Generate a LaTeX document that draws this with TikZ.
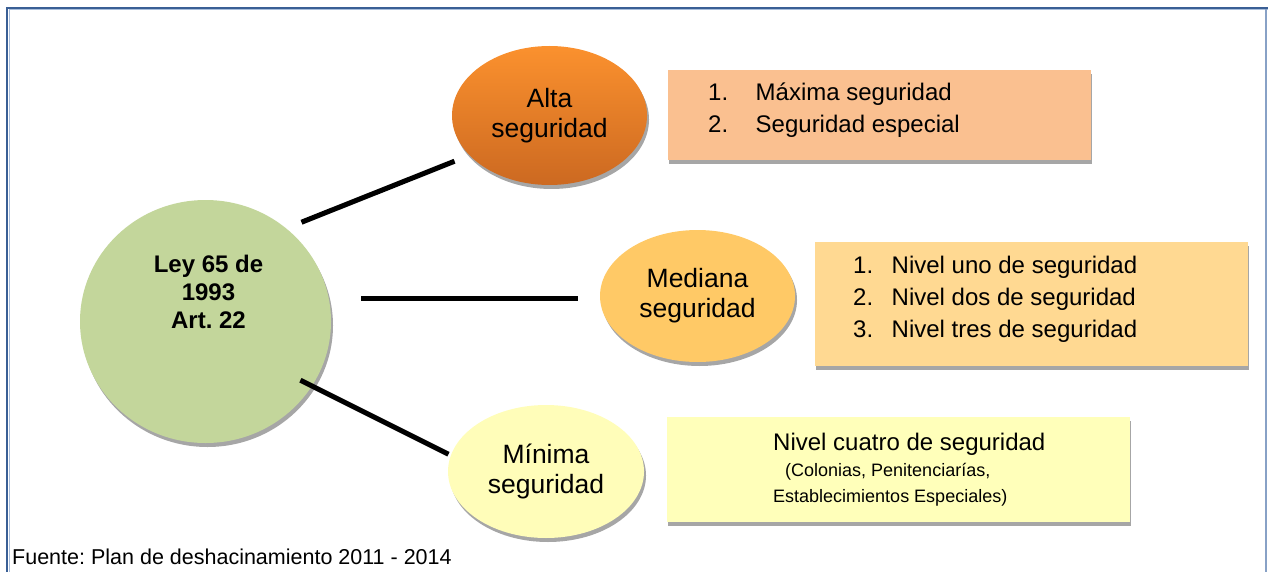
\documentclass[tikz,border=0pt]{standalone}
\usepackage{fontspec}
\setmainfont{Liberation Sans}
\usetikzlibrary{shapes.geometric,shadows,calc}
\frenchspacing
\definecolor{framedark}{HTML}{3A5F95}
\definecolor{framelight}{HTML}{A9BEDB}
\definecolor{leygreen}{HTML}{C3D69B}
\definecolor{altatop}{HTML}{FB912E}
\definecolor{altabot}{HTML}{CC6921}
\definecolor{medfill}{HTML}{FFC966}
\definecolor{minfill}{HTML}{FFFDB9}
\definecolor{boxone}{HTML}{FAC090}
\definecolor{boxtwo}{HTML}{FFD992}
\definecolor{boxthree}{HTML}{FFFFBA}
\definecolor{shade}{HTML}{A6A6A6}
\begin{document}
\begin{tikzpicture}[x=1pt,y=-1pt,
  oval/.style={ellipse, inner sep=0pt, align=center, font=\fontsize{26.5}{30}\selectfont,
    drop shadow={shadow xshift=2pt, shadow yshift=-4pt, fill=shade, opacity=1}},
  panel/.style={rectangle, inner sep=0pt, anchor=north west,
    drop shadow={shadow xshift=1pt, shadow yshift=-4pt, fill=shade, opacity=1}},
  item/.style={anchor=base west, inner sep=0pt, font=\fontsize{24}{28}\selectfont},
  smallitem/.style={anchor=base west, inner sep=0pt, font=\fontsize{18}{22}\selectfont},
  link/.style={line width=2.4pt, black},
  linkshadow/.style={line width=3.4pt, shade},
]
\useasboundingbox (0,0) rectangle (1268,572);
% frame
\draw[framelight, line width=1pt] (9.5,572) -- (9.5,10) -- (1268,10);
\draw[framedark, line width=2.5pt] (7,572) -- (7,8) -- (1268,8);
\draw[framelight!70!framedark, line width=1.5pt] (1266,9) -- (1266,572);

% boxes
\node[panel, fill=boxone, minimum width=423pt, minimum height=90pt] (b1) at (668,70) {};
\node[panel, fill=boxtwo, minimum width=433pt, minimum height=124pt] (b2) at (815,242) {};
\node[panel, fill=boxthree, minimum width=463pt, minimum height=105pt] (b3) at (667,417) {};

% ellipses
\node[oval, fill=leygreen, minimum width=251pt, minimum height=243pt] (ley) at (205.5,321.5) {};
\node[anchor=center, align=center, inner sep=0pt, font=\bfseries\fontsize{24}{28}\selectfont] (leyt) at (208.5,292) {Ley 65 de\\1993\\Art. 22};
\node[oval, top color=altatop, bottom color=altabot, minimum width=195pt, minimum height=139pt] (alta) at (549.5,115.5) {Alta\\seguridad};
\node[oval, fill=medfill, minimum width=195pt, minimum height=132pt] (med) at (697.5,296) {Mediana\\seguridad};
\node[oval, fill=minfill, minimum width=196pt, minimum height=133pt] (min) at (546,471.5) {Mínima\\seguridad};

% connector end points
\coordinate (c1a) at ($(ley.center)+(95.5,-100.5)$);
\coordinate (c1b) at ($(alta.center)+(-95.5,44.5)$);
\coordinate (c2a) at ($(ley.center)+(155.5,-24.5)$);
\coordinate (c2b) at ($(med.center)+(-119.5,1)$);
\coordinate (c3a) at ($(ley.center)+(95.5,57.5)$);
\coordinate (c3b) at ($(min.center)+(-97,-18.5)$);

\draw[linkshadow] ($(c1a)+(0.8,2)$) -- ($(c1b)+(0.8,2)$);
\draw[linkshadow] ($(c2a)+(0,2.2)$) -- ($(c2b)+(0,2.2)$);
\draw[linkshadow] ($(c3a)+(-0.9,2)$) -- ($(c3b)+(-0.9,2)$);
\draw[link] (c1a) -- (c1b);
\draw[link] (c2a) -- (c2b);
\draw[link] (c3a) -- (c3b);

% box texts
\node[item] (n11) at (708,101) {1.};
\node[item] (t11) at (755.5,101) {Máxima seguridad};
\node[item] (n12) at (708,133) {2.};
\node[item] (t12) at (755.5,133) {Seguridad especial};

\node[item] (n21) at (853,273) {1.};
\node[item] (t21) at (891.5,273) {Nivel uno de seguridad};
\node[item] (n22) at (853,305.5) {2.};
\node[item] (t22) at (891.5,305.5) {Nivel dos de seguridad};
\node[item] (n23) at (853,337) {3.};
\node[item] (t23) at (891.5,337) {Nivel tres de seguridad};

\node[item] (t31) at (773,450) {Nivel cuatro de seguridad};
\node[smallitem] (t32) at (785,476) {(Colonias, Penitenciarías,};
\node[smallitem] (t33) at (773,502) {Establecimientos Especiales)};

% source
\node[anchor=base west, inner sep=0pt, font=\fontsize{21.5}{26}\selectfont] (src) at (12,564) {Fuente: Plan de deshacinamiento 2011 - 2014};
\end{tikzpicture}
\end{document}
